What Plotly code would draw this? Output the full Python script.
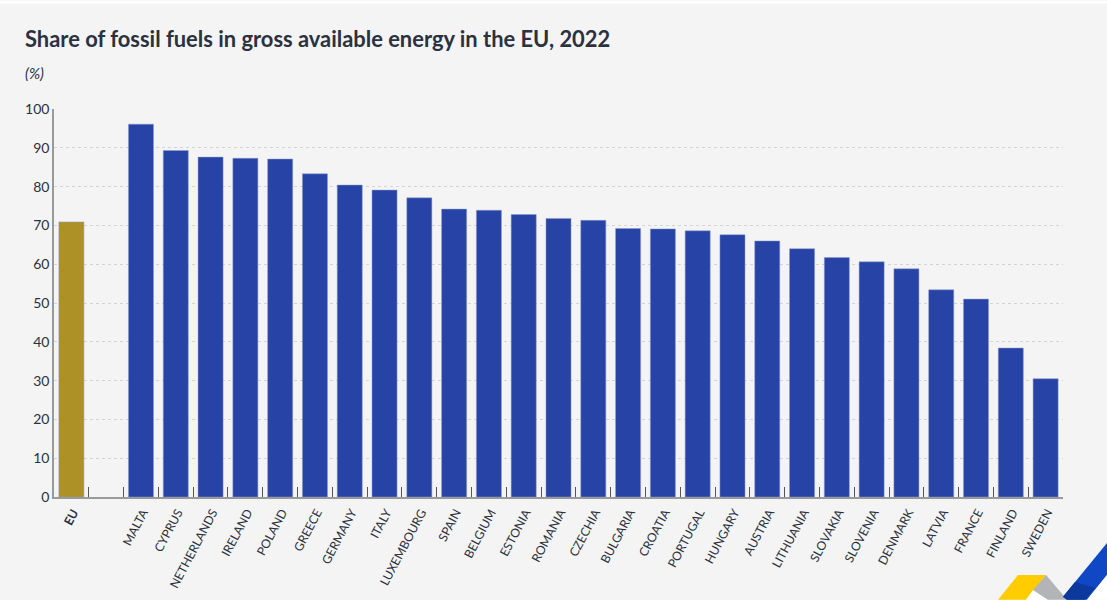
import plotly.graph_objects as go

# values, blank slot separates EU from the countries
countries = ['<b>EU</b>', ' ', 'MALTA', 'CYPRUS', 'NETHERLANDS', 'IRELAND', 'POLAND', 'GREECE',
             'GERMANY', 'ITALY', 'LUXEMBOURG', 'SPAIN', 'BELGIUM', 'ESTONIA', 'ROMANIA',
             'CZECHIA', 'BULGARIA', 'CROATIA', 'PORTUGAL', 'HUNGARY', 'AUSTRIA', 'LITHUANIA',
             'SLOVAKIA', 'SLOVENIA', 'DENMARK', 'LATVIA', 'FRANCE', 'FINLAND', 'SWEDEN']
shares = [70.9, None, 96.1, 89.3, 87.6, 87.3, 87.1, 83.3,
          80.4, 79.1, 77.1, 74.2, 73.9, 72.8, 71.8,
          71.3, 69.2, 69.1, 68.6, 67.6, 66.0, 64.0,
          61.7, 60.6, 58.8, 53.4, 51.0, 38.4, 30.5]
bar_colors = ['#ae9126'] + ['#2743a6'] * 28
y_ticks = [0, 10, 20, 30, 40, 50, 60, 70, 80, 90, 100]

W, H = 1107, 600
FONT = 'Lato'
TEXT = '#2b3140'
L, R, T, B = 54, 44, 108.5, 103


def logo_piece(points, color):
    # logo sits in the corner, given in page pixels
    xs = [(px - L) / (W - L - R) for px, _ in points]
    ys = [(H - B - py) / (H - T - B) for _, py in points]
    path = 'M ' + ' L '.join(f'{x:.4f} {y:.4f}' for x, y in zip(xs, ys)) + ' Z'
    return dict(type='path', path=path, xref='paper', yref='paper', fillcolor=color,
                line_width=0, layer='below')


fig = go.Figure(go.Bar(x=countries, y=shares, width=0.72,
                       marker=dict(color=bar_colors, line=dict(color='#8f9bce', width=0.5)),
                       hoverinfo='x+y'))

fig.update_layout(
    width=W, height=H,
    margin=dict(l=L, r=R, t=T, b=B, pad=0, autoexpand=False),
    paper_bgcolor='#f4f4f4', plot_bgcolor='#f4f4f4',
    font=dict(family=FONT, color=TEXT),
    showlegend=False,
    bargap=0.28,
    annotations=[
        dict(text='<b>Share of fossil fuels in gross available energy in the EU, 2022</b>',
             xref='paper', yref='paper', x=-31 / (W - L - R), y=(H - B - 38) / (H - T - B),
             xanchor='left', yanchor='middle', showarrow=False, font=dict(size=21.9, color=TEXT)),
        dict(text='<i>(%)</i>',
             xref='paper', yref='paper', x=-31 / (W - L - R), y=(H - B - 72) / (H - T - B),
             xanchor='left', yanchor='middle', showarrow=False, font=dict(size=15, color=TEXT)),
    ],
    shapes=[
        # thin white strip along the top of the page
        logo_piece([(0, 0), (W, 0), (W, 3), (0, 3)], '#ffffff'),
        logo_piece([(1018, 575), (1046, 575), (1026, 600), (998, 600)], '#ffcc00'),
        logo_piece([(1026, 600), (1033, 590), (1048, 600)], '#ffffff'),
        logo_piece([(1046, 575), (1067, 600), (1048, 600), (1033, 590)], '#b3b4b7'),
        logo_piece([(1107, 543), (1063, 597), (1067, 600), (1087, 600), (1107, 575)], '#0f47c4'),
        logo_piece([(1075, 582), (1063, 597), (1067, 600), (1085, 600), (1095, 588)], '#0b3a9c'),
        logo_piece([(1087, 600), (1107, 575), (1107, 600)], '#ffffff'),
    ],
)

fig.update_xaxes(type='category', categoryorder='array', categoryarray=countries,
                 range=[-0.5, 28.5], tickson='boundaries', ticks='inside', ticklen=10,
                 tickcolor='#555555', tickwidth=1, tickangle=-62, automargin=False,
                 ticklabelshift=2, ticklabelstandoff=2,
                 tickfont=dict(size=12.2, color=TEXT), showgrid=False,
                 showline=True, linecolor='#9a9a9a', linewidth=1.5, zeroline=False)
fig.update_yaxes(range=[0, 100], tickvals=y_ticks, ticks='', ticklen=0, automargin=False,
                 tickfont=dict(size=14, color=TEXT), showgrid=True, gridcolor='#d4d4d4',
                 griddash='3px,3px', gridwidth=1, showline=True, linecolor='#9a9a9a',
                 linewidth=1.5, zeroline=False)

fig.write_html("out.html", config=dict(displayModeBar=False),
               post_script="document.body.style.margin='0';")
